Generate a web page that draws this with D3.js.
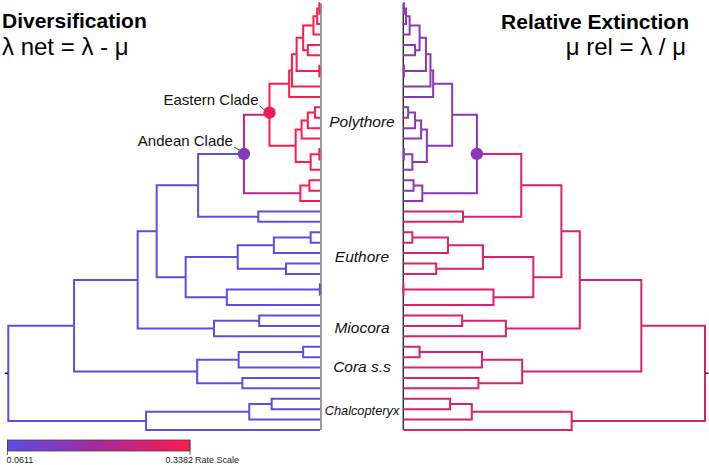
<!DOCTYPE html>
<html><head><meta charset="utf-8">
<script src="https://cdn.jsdelivr.net/npm/d3@7"></script>
<style>
html,body{margin:0;padding:0;background:#fff;}
svg{display:block;font-family:"Liberation Sans",Arial,Helvetica,sans-serif;}
</style></head><body>
<svg id="chart" width="709" height="465"></svg>
<script>
// ---------------- DATA ----------------
// tree nodes: [id, parent, age] (root age = 100, tips = 0), listed top-to-bottom
const treeRows = [
 ["root","",100],
 ["n_core","root",78.9],
 ["n_mio","n_core",58.5],
 ["n_pe","n_mio",52.4],
 ["n_poly","n_pe",39.1],
 ["andean","n_poly",24.4],
 ["eastern","andean",16.2],
 ["e_top","eastern",9.9],
 ["e_top2","e_top",9.0],
 ["e_y","e_top2",7.5],
 ["e_xy","e_y",5.4],
 ["e_x","e_xy",2.1],
 ["e_x2","e_x",0.9],
 ["e_x3","e_x2",0.2],
 ["t1","e_x3",0],["t2","e_x3",0],
 ["t3","e_x2",0],
 ["t4","e_x",0],
 ["e_56","e_xy",3.9],["t5","e_56",0],["t6","e_56",0],
 ["e_78","e_y",0.2],["t7","e_78",0],["t8","e_78",0],
 ["t9","e_top2",0],
 ["t10","e_top",0],
 ["e_bot","eastern",7.8],
 ["e_b1","e_bot",5.9],
 ["e_b2","e_b1",3.9],
 ["e_b3","e_b2",1.6],["t11","e_b3",0],["t12","e_b3",0],
 ["t13","e_b2",0],
 ["t14","e_b1",0],
 ["e_b4","e_bot",3.0],
 ["e_b5","e_b4",0.2],["t15","e_b5",0],["t16","e_b5",0],
 ["t17","e_b4",0],
 ["a_bot","andean",6.3],
 ["a_bot2","a_bot",3.4],["t18","a_bot2",0],["t19","a_bot2",0],
 ["t20","a_bot",0],
 ["p_21","n_poly",19.8],["t21","p_21",0],["t22","p_21",0],
 ["eu","n_pe",43.1],
 ["eu_a","eu",26.4],
 ["eu_a1","eu_a",14.8],
 ["eu_a11","eu_a1",3.0],["t23","eu_a11",0],["t24","eu_a11",0],
 ["t25","eu_a1",0],
 ["eu_a2","eu_a",10.9],["t26","eu_a2",0],["t27","eu_a2",0],
 ["eu_b","eu",29.9],
 ["eu_b1","eu_b",0.05],["t28","eu_b1",0],["t29","eu_b1",0],
 ["t30","eu_b",0],
 ["mio","n_mio",34.0],
 ["mio1","mio",19.5],["t31","mio1",0],["t32","mio1",0],
 ["t33","mio",0],
 ["cora","n_core",39.4],
 ["cora_a","cora",26.1],
 ["cora_a1","cora_a",5.4],["t34","cora_a1",0],["t35","cora_a1",0],
 ["t36","cora_a",0],
 ["cora_b","cora",24.9],["t37","cora_b",0],["t38","cora_b",0],
 ["chal","root",55.8],
 ["chal_a","chal",22.7],
 ["chal_a1","chal_a",15.5],["t39","chal_a1",0],["t40","chal_a1",0],
 ["t41","chal_a",0],
 ["t42","chal",0]
];

// rates: background value, and shifts [node, stem-branch rate, clade rate]
const divRateBackground = 0.0611;
const divRateShifts = [["eastern",0.24,0.3382],["a_bot",0.22,0.33]];
const extRateBackground = 0.28;
const extRateShifts = [["andean",0.28,0.15]];

// highlighted nodes: [node, tree, rate]
const markers = [["eastern","div",0.31],["andean","div",0.13],["andean","ext",0.15]];
const markerLabels = [["eastern","Eastern Clade"],["andean","Andean Clade"]];

const cladeLabels = ["Polythore","Euthore","Miocora","Cora s.s","Chalcopteryx"];
const rateScaleEnds = [0.0611, 0.3382];

// ---------------- CHART ----------------
const svg = d3.select("#chart");
const color = d3.scaleLinear()
  .domain([0.0611, 0.2, 0.3382])
  .range(["#5b4de6","#a62a9c","#ff1a4b"])
  .interpolate(d3.interpolateRgb);

const root = d3.stratify().id(d=>d[0]).parentId(d=>d[1]===""?null:d[1])(treeRows);
root.each(n=>{ n.age = n.data[2]; });
const leaves = root.leaves();
const yTip = d3.scaleLinear().domain([0, leaves.length-1]).range([3.3, 430]);
leaves.forEach((l,i)=>{ l.y = yTip(i); });
root.eachAfter(n=>{ if(n.children){ n.y = (n.children[0].y + n.children[n.children.length-1].y)/2; } });

function rateOf(n, bg, shifts){
  let r = bg;
  const ids = n.ancestors().map(a=>a.id);
  for (const [id, stem, clade] of shifts){
    if (n.id === id) r = stem;
    else if (ids.includes(id)) r = clade;
  }
  return r;
}

const xL = d3.scaleLinear().domain([0,100]).range([320, 8.3]);
const xR = d3.scaleLinear().domain([0,100]).range([403.3, 705]);

// tip lines
svg.append("line").attr("x1",xL(0)+1).attr("x2",xL(0)+1)
  .attr("y1",yTip(0)).attr("y2",yTip(leaves.length-1))
  .attr("stroke","#9a9a9a").attr("stroke-width",2);
svg.append("line").attr("x1",xR(0)).attr("x2",xR(0))
  .attr("y1",yTip(0)).attr("y2",yTip(leaves.length-1))
  .attr("stroke","#333").attr("stroke-width",1.5);

function drawTree(x, bg, shifts, cls){
  const g = svg.append("g").attr("class",cls);
  g.selectAll("path").data(root.descendants().filter(n=>n.parent))
    .join("path")
    .attr("d", n=>`M${x(n.parent.age)},${n.parent.y}V${n.y}H${x(n.age)}`)
    .attr("fill","none")
    .attr("stroke", n=>color(rateOf(n,bg,shifts)))
    .attr("stroke-width",2);
  // root stub
  const dir = x(100) > x(0) ? 1 : -1;
  g.append("line").attr("x1",x(100)).attr("x2",x(100)+dir*3.5)
    .attr("y1",root.y).attr("y2",root.y).attr("stroke","#222").attr("stroke-width",1.5);
}
drawTree(xL, divRateBackground, divRateShifts, "div");
drawTree(xR, extRateBackground, extRateShifts, "ext");

const nodeById = new Map(root.descendants().map(n=>[n.id,n]));

// marker labels with leader lines (left tree)
markerLabels.forEach(([id, txt])=>{
  const n = nodeById.get(id);
  const cx = xL(n.age), cy = n.y;
  const tx = cx - 11, ty = cy - (id==="eastern"?10:8);
  svg.append("line").attr("x1",cx-3).attr("y1",cy-3).attr("x2",tx+1).attr("y2",ty+1)
    .attr("stroke","#555").attr("stroke-width",1);
  svg.append("text").attr("x",tx).attr("y",ty).attr("text-anchor","end")
    .attr("font-size",15).attr("fill","#111").attr("textLength",null).text(txt);
});

markers.forEach(([id, tree, r])=>{
  const n = nodeById.get(id);
  const x = tree==="div" ? xL : xR;
  svg.append("circle").attr("cx",x(n.age)).attr("cy",n.y - (id==="eastern"?2:0)).attr("r",6.2)
    .attr("fill",color(r));
});

// clade labels
const cladeY = [127, 262, 333, 372, 415];
const cladeSize = [15.5, 15.5, 15.5, 15.5, 12.8];
cladeLabels.forEach((t,i)=>{
  svg.append("text").attr("x",362).attr("y",cladeY[i]).attr("text-anchor","middle")
    .attr("font-style","italic").attr("font-size",cladeSize[i]).attr("fill","#111").text(t);
});

// titles
svg.append("text").attr("x",2).attr("y",28).attr("font-weight","bold").attr("font-size",21)
  .attr("fill","#000").text("Diversification");
svg.append("text").attr("x",2).attr("y",55).attr("font-size",24)
  .attr("fill","#000").text("λ net = λ - μ");
svg.append("text").attr("x",689).attr("y",29).attr("text-anchor","end").attr("font-weight","bold").attr("font-size",21)
  .attr("fill","#000").text("Relative Extinction");
svg.append("text").attr("x",686).attr("y",55).attr("text-anchor","end").attr("font-size",24)
  .attr("fill","#000").text("μ rel = λ / μ");

// legend
const lx = d3.scaleLinear().domain(rateScaleEnds).range([7.5, 190]);
const defs = svg.append("defs");
const grad = defs.append("linearGradient").attr("id","rg").attr("x1","0%").attr("x2","100%");
d3.range(0,1.0001,0.1).forEach(t=>{
  const v = rateScaleEnds[0] + t*(rateScaleEnds[1]-rateScaleEnds[0]);
  grad.append("stop").attr("offset",(t*100)+"%").attr("stop-color",color(v));
});
svg.append("rect").attr("x",lx(rateScaleEnds[0])).attr("y",440)
  .attr("width",lx(rateScaleEnds[1])-lx(rateScaleEnds[0])).attr("height",11)
  .attr("fill","url(#rg)").attr("stroke","#444").attr("stroke-width",0.8);
rateScaleEnds.forEach(v=>{
  svg.append("line").attr("x1",lx(v)).attr("x2",lx(v)).attr("y1",440).attr("y2",455)
    .attr("stroke","#444").attr("stroke-width",0.8);
});
svg.append("text").attr("x",lx(rateScaleEnds[0])-1).attr("y",462.5).attr("font-size",9)
  .attr("fill","#222").text(rateScaleEnds[0].toFixed(4));
svg.append("text").attr("x",lx(rateScaleEnds[1])+3).attr("y",462.5).attr("font-size",9)
  .attr("text-anchor","end").attr("fill","#222").text(rateScaleEnds[1].toFixed(4));
svg.append("text").attr("x",lx(rateScaleEnds[1])+5).attr("y",462.5).attr("font-size",9)
  .attr("fill","#222").text("Rate Scale");
</script>
</body></html>
